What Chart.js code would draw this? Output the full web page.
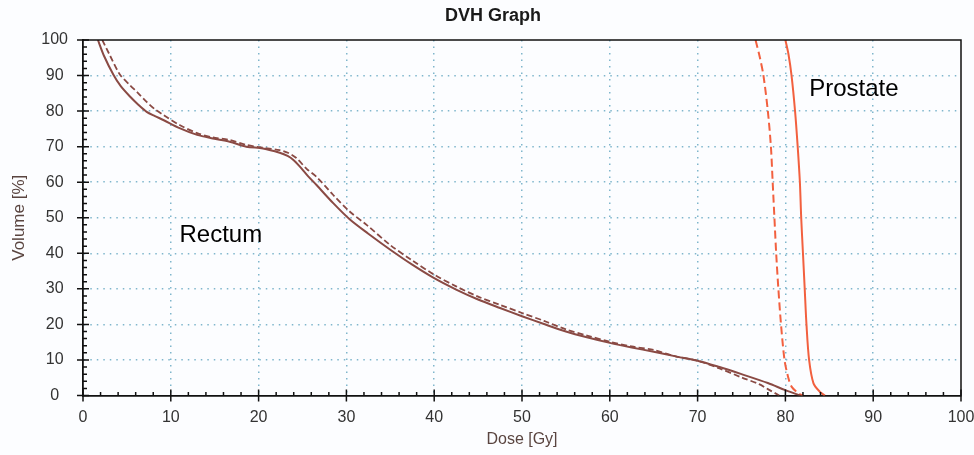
<!DOCTYPE html>
<html lang="en">
<head>
<meta charset="UTF-8">
<title>DVH Graph</title>
<script src="https://cdn.jsdelivr.net/npm/chart.js"></script>
<style>
    body { margin: 0; background: #fcfdff; }
    #wrap { width: 974px; height: 455px; position: relative; }
</style>
</head>
<body>
<div id="wrap"><canvas id="dvh"></canvas></div>
<script>
    // Rectum, solid line (dose in Gy, volume in %)
    const rectumDose = [1.7, 2.4, 3.45, 4.3, 5.35, 6.3, 7.25, 8.2, 9.15, 11, 13, 14.8, 16.7, 18.6, 20.5, 22.4, 23.3, 24, 24.7, 25.6, 26.6, 28.5, 30.4, 32.5, 35, 37.5, 40, 42.5, 45, 47.5, 50, 52.5, 55, 57.5, 60, 62.5, 65, 67.5, 70, 72.5, 75, 78, 80, 81.7];
    const rectumVol  = [100, 95.5, 90.3, 87, 84.1, 81.8, 79.8, 78.6, 77.5, 75.2, 73.3, 72.3, 71.4, 70, 69.5, 68.3, 67.4, 66.2, 64.4, 61.8, 59.2, 54.1, 49.5, 45.5, 41, 36.8, 33, 29.8, 27, 24.6, 22.3, 20.1, 18, 16.3, 14.8, 13.5, 12.3, 11, 9.8, 8, 6, 3.5, 1.5, 0];

    // Rectum, dashed line
    const rectumDoseB = [2.2, 3, 4.2, 5.35, 6.3, 7.25, 8.2, 9.15, 11, 13, 14.8, 16.7, 18.6, 20.5, 22.4, 23.4, 24.3, 25.5, 26.6, 28.5, 30.4, 32.3, 35, 37.5, 40, 42.5, 45, 47.5, 50, 52.5, 55, 57.5, 60, 62.5, 65, 67.5, 70, 72.5, 75, 77, 78, 79.3];
    const rectumVolB  = [100, 96, 90.3, 87.3, 85, 82.6, 80.5, 78.9, 76.1, 73.8, 72.6, 71.9, 70.5, 69.7, 69, 68.2, 66.8, 63.7, 61.5, 56.4, 51.7, 48, 42.3, 38, 34, 30.7, 27.8, 25.5, 23.2, 21, 18.6, 16.8, 15.1, 13.8, 12.8, 11, 9.8, 7.6, 5.1, 3.2, 1.8, 0];

    // Prostate, solid line
    const prostateDose = [80, 80.35, 80.7, 81.1, 81.4, 81.65, 81.8, 82, 82.2, 82.4, 82.7, 83.2, 83.9, 84.5];
    const prostateVol  = [100, 96, 90, 80, 70, 60, 50, 40, 30, 20, 10, 3.4, 1.1, 0];

    // Prostate, dashed line
    const prostateDoseB = [76.6, 77.1, 77.5, 78, 78.35, 78.55, 78.75, 78.95, 79.2, 79.5, 79.9, 80.3, 80.7, 81.5, 82];
    const prostateVolB  = [100, 95, 90, 80, 70, 60, 50, 40, 30, 20, 10, 5.3, 2.5, 0.6, 0];

    const axisMin = 0;
    const axisMax = 100;
    const majorStep = 10;
    const minorStep = 2;

    const corRectum = "#8a4a44";
    const corProstata = "#f2603f";
    const fonte = "'Liberation Sans', Arial, sans-serif";

    function pontos(xs, ys) {
        return xs.map((x, i) => ({ x: x, y: ys[i] }));
    }

    // moldura, marcas de escala, titulos e rotulos
    const molduraPlugin = {
        id: "moldura",
        afterDraw(chart) {
            const ctx = chart.ctx;
            const a = chart.chartArea;
            const sx = chart.scales.x;
            const sy = chart.scales.y;
            ctx.save();
            ctx.strokeStyle = "#111";
            ctx.lineWidth = 1.5;
            ctx.beginPath();
            ctx.moveTo(a.left, a.top);
            ctx.lineTo(a.right, a.top);
            ctx.lineTo(a.right, a.bottom);
            ctx.stroke();

            // marcas
            ctx.lineWidth = 1.5;
            ctx.beginPath();
            for (let v = axisMin; v <= axisMax; v += minorStep) {
                const major = v % majorStep === 0;
                const px = sx.getPixelForValue(v);
                const py = sy.getPixelForValue(v);
                if (major) {
                    ctx.moveTo(px, a.bottom + 6);
                    ctx.lineTo(px, a.bottom - 6);
                    ctx.moveTo(a.left - 6, py);
                    ctx.lineTo(a.left + 6, py);
                } else {
                    ctx.moveTo(px, a.bottom);
                    ctx.lineTo(px, a.bottom - 3.5);
                    ctx.moveTo(a.left, py);
                    ctx.lineTo(a.left + 4, py);
                }
            }
            ctx.stroke();

            // titulo
            ctx.fillStyle = "#1a1a1a";
            ctx.font = "bold 18px " + fonte;
            ctx.textAlign = "center";
            ctx.textBaseline = "middle";
            ctx.fillText("DVH Graph", 493, 16);

            // titulos dos eixos
            ctx.fillStyle = "#5a4540";
            ctx.font = "16px " + fonte;
            ctx.fillText("Dose [Gy]", (a.left + a.right) / 2, 440);
            ctx.save();
            ctx.translate(19, (a.top + a.bottom) / 2);
            ctx.rotate(-Math.PI / 2);
            ctx.font = "17px " + fonte;
            ctx.fillText("Volume [%]", 0, 0);
            ctx.restore();

            // rotulos das curvas
            ctx.fillStyle = "#000";
            ctx.font = "24px " + fonte;
            ctx.fillText("Rectum", sx.getPixelForValue(15.7), sy.getPixelForValue(45.1));
            ctx.fillText("Prostate", sx.getPixelForValue(87.8), sy.getPixelForValue(86.2));
            ctx.restore();
        }
    };

    const gridCor = (c) => (c.tick.value === axisMin || c.tick.value === axisMax) ? "transparent" : "#7fb6cc";

    new Chart(document.getElementById("dvh"), {
        type: "line",
        data: {
            datasets: [
                { label: "Rectum", data: pontos(rectumDose, rectumVol), borderColor: corRectum, borderWidth: 2 },
                { label: "Rectum (2)", data: pontos(rectumDoseB, rectumVolB), borderColor: corRectum, borderWidth: 1.8, borderDash: [6, 3] },
                { label: "Prostate", data: pontos(prostateDose, prostateVol), borderColor: corProstata, borderWidth: 2 },
                { label: "Prostate (2)", data: pontos(prostateDoseB, prostateVolB), borderColor: corProstata, borderWidth: 2, borderDash: [8, 4] }
            ]
        },
        options: {
            responsive: true,
            maintainAspectRatio: false,
            animation: false,
            layout: { padding: { top: 40, right: 13, left: 0, bottom: 0 } },
            elements: {
                point: { radius: 0 },
                line: { tension: 0.3, fill: false }
            },
            plugins: { legend: { display: false }, tooltip: { enabled: false } },
            scales: {
                x: {
                    type: "linear",
                    min: axisMin,
                    max: axisMax,
                    ticks: { stepSize: majorStep, color: "#333", padding: 12, font: { size: 16, family: fonte } },
                    grid: { color: gridCor, lineWidth: 1.5, drawTicks: false },
                    border: { display: true, color: "#111", width: 1.8, dash: [1.5, 5] },
                    afterFit(scale) { scale.height = 59.5; scale.paddingLeft = 0; scale.paddingRight = 0; }
                },
                y: {
                    min: axisMin,
                    max: axisMax,
                    ticks: { stepSize: majorStep, color: "#333", padding: 15, crossAlign: "center", font: { size: 16, family: fonte } },
                    grid: { color: gridCor, lineWidth: 1.5, drawTicks: false },
                    border: { display: true, color: "#111", width: 1.8, dash: [1.5, 5] },
                    afterFit(scale) { scale.width = 83; scale.paddingTop = 0; scale.paddingBottom = 0; }
                }
            }
        },
        plugins: [molduraPlugin]
    });
</script>
</body>
</html>
